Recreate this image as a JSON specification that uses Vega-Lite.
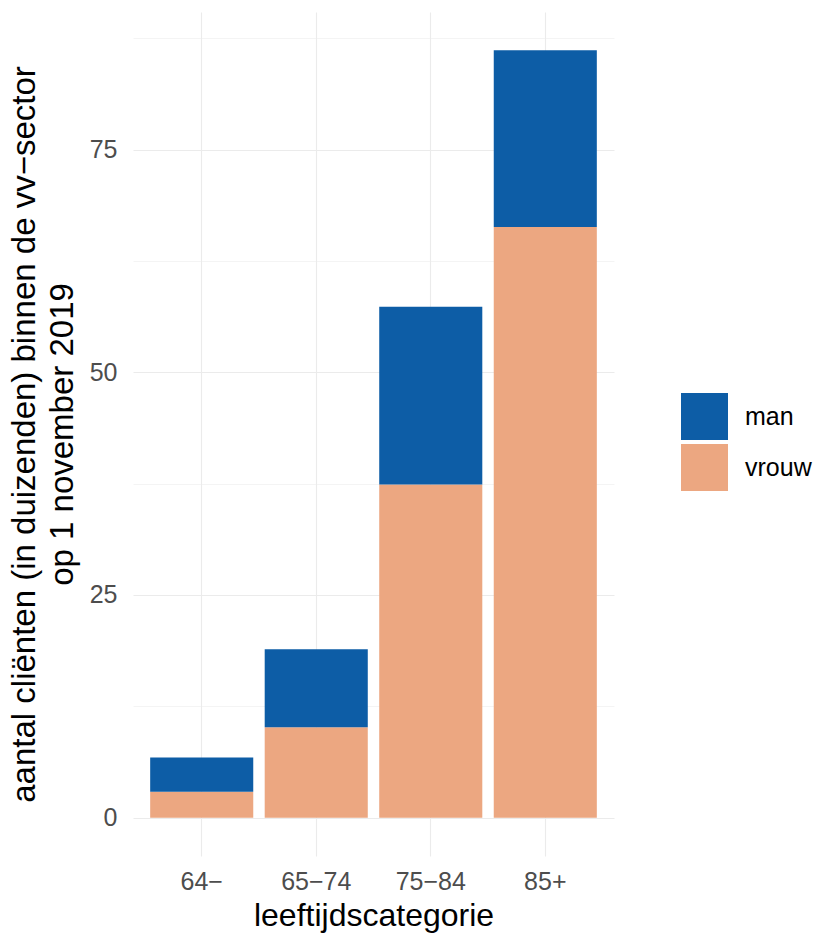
{
  "$schema": "https://vega.github.io/schema/vega-lite/v6.json",
  "width": 481,
  "height": 844,
  "autosize": {"type": "none"},
  "padding": {"left": 133, "top": 12, "right": 205, "bottom": 80},
  "background": "white",
  "config": {"view": {"stroke": null}, "font": "Liberation Sans"},
  "data": {
    "values": [
      {"leeftijd": "64−", "geslacht": "vrouw", "aantal": 2.9},
      {"leeftijd": "64−", "geslacht": "man", "aantal": 3.85},
      {"leeftijd": "65−74", "geslacht": "vrouw", "aantal": 10.15},
      {"leeftijd": "65−74", "geslacht": "man", "aantal": 8.75},
      {"leeftijd": "75−84", "geslacht": "vrouw", "aantal": 37.4},
      {"leeftijd": "75−84", "geslacht": "man", "aantal": 19.95},
      {"leeftijd": "85+", "geslacht": "vrouw", "aantal": 66.3},
      {"leeftijd": "85+", "geslacht": "man", "aantal": 19.85}
    ]
  },
  "mark": {"type": "bar", "strokeWidth": 0},
  "encoding": {
    "x": {
      "field": "leeftijd",
      "type": "nominal",
      "sort": ["64−", "65−74", "75−84", "85+"],
      "scale": {"paddingInner": 0.1, "paddingOuter": 0.15},
      "axis": {
        "title": "leeftijdscategorie",
        "bandPosition": 0.5,
        "grid": true,
        "gridColor": "#EBEBEB",
        "gridWidth": 1.1,
        "domain": false,
        "ticks": false,
        "labelAngle": 0,
        "labelFontSize": 25,
        "labelColor": "#4D4D4D",
        "labelPadding": 13,
        "titleFontSize": 32,
        "titleColor": "#000000",
        "titleFontWeight": "normal",
        "titlePadding": 6
      }
    },
    "y": {
      "field": "aantal",
      "type": "quantitative",
      "stack": "zero",
      "scale": {"domain": [-4.307, 90.447], "nice": false, "zero": false},
      "axis": {
        "values": [0, 12.5, 25, 37.5, 50, 62.5, 75, 87.5],
        "labelExpr": "datum.value % 25 == 0 ? datum.label : ''",
        "grid": true,
        "gridColor": "#EBEBEB",
        "gridWidth": {"condition": {"test": "datum.value % 25 != 0", "value": 0.55}, "value": 1.1},
        "domain": false,
        "ticks": false,
        "labelFontSize": 25,
        "labelColor": "#4D4D4D",
        "labelPadding": 16,
        "title": ["aantal cliënten (in duizenden) binnen de vv−sector", "op 1 november 2019"],
        "titleFontSize": 33,
        "titleColor": "#000000",
        "titleFontWeight": "normal",
        "titleLineHeight": 38,
        "titlePadding": 10
      }
    },
    "color": {
      "field": "geslacht",
      "type": "nominal",
      "scale": {"domain": ["man", "vrouw"], "range": ["#0D5DA6", "#ECA781"]},
      "legend": {
        "orient": "none",
        "legendX": 548,
        "legendY": 381,
        "title": null,
        "symbolType": "square",
        "symbolSize": 2209,
        "symbolStrokeWidth": 0,
        "labelFontSize": 25,
        "labelColor": "#000000",
        "labelOffset": 17,
        "rowPadding": 4
      }
    },
    "order": {"field": "geslacht", "sort": "descending"}
  }
}
